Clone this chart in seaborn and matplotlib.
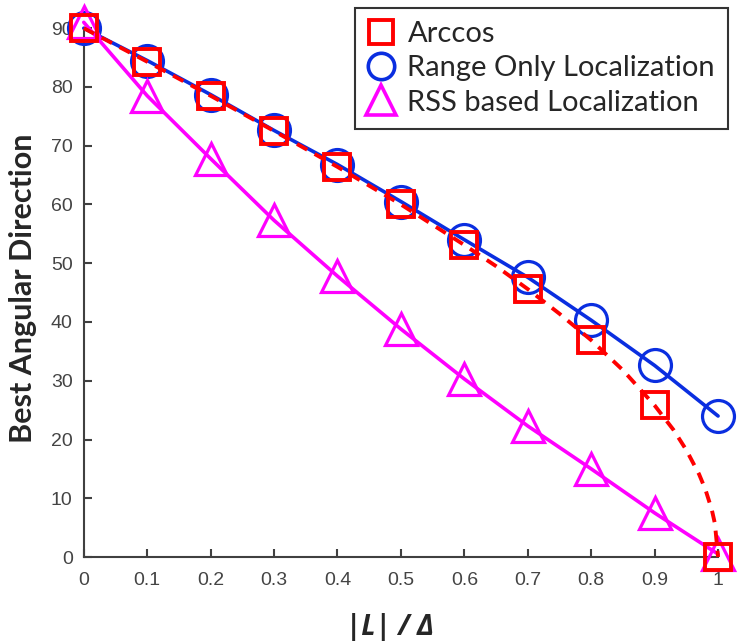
import matplotlib
matplotlib.use("Agg")
import matplotlib.pyplot as plt
from matplotlib.lines import Line2D
import seaborn as sns
import pandas as pd

x_vals = [0, 0.1, 0.2, 0.3, 0.4, 0.5, 0.6, 0.7, 0.8, 0.9, 1.0]
arccos_vals = [90, 84.3, 78.5, 72.5, 66.4, 60.0, 53.1, 45.6, 36.9, 25.8, 0.0]
range_vals = [90, 84.5, 78.7, 72.6, 66.8, 60.5, 54.0, 47.6, 40.3, 32.6, 24.0]
rss_vals = [91, 78.5, 67.8, 57.3, 47.8, 38.8, 30.3, 22.3, 15.0, 7.5, 0.5]

curve_x = [0, 0.1, 0.2, 0.3, 0.4, 0.5, 0.6, 0.65, 0.7, 0.75, 0.8, 0.85, 0.9, 0.93, 0.95, 0.97, 0.98, 0.99, 0.995, 1.0]
curve_y = [90, 84.3, 78.5, 72.5, 66.4, 60.0, 53.1, 49.5, 45.6, 41.4, 36.9, 31.8, 25.8, 21.6, 18.2, 14.1, 11.5, 8.1, 5.7, 0.0]

sns.set_style("ticks")
plt.rcParams['font.family'] = ['Liberation Sans', 'DejaVu Sans']

fig = plt.figure(figsize=(7.48, 6.41), dpi=100)
ax = fig.add_axes([0.112, 0.131, 0.848, 0.825])

red = "#ff0000"
blue = "#0a2ee0"
mag = "#ff00ff"

df_r = pd.DataFrame({"x": x_vals, "y": range_vals})
df_s = pd.DataFrame({"x": x_vals, "y": rss_vals})
df_a = pd.DataFrame({"x": x_vals, "y": arccos_vals})
df_c = pd.DataFrame({"x": curve_x, "y": curve_y})

sns.lineplot(data=df_r, x="x", y="y", ax=ax, color=blue, lw=2.6, marker="o",
             markersize=23, markerfacecolor="none", markeredgecolor=blue,
             markeredgewidth=2.3, clip_on=False, zorder=3)
sns.lineplot(data=df_s, x="x", y="y", ax=ax, color=mag, lw=2.6, marker="^",
             markersize=23, markerfacecolor="none", markeredgecolor=mag,
             markeredgewidth=2.3, clip_on=False, zorder=3)
sns.lineplot(data=df_c, x="x", y="y", ax=ax, color=red, lw=2.8,
             linestyle=(0, (3, 2.2)), clip_on=False, zorder=4)
sns.lineplot(data=df_a, x="x", y="y", ax=ax, color=red, lw=0, marker="s",
             markersize=19, markerfacecolor="none", markeredgecolor=red,
             markeredgewidth=2.8, clip_on=False, zorder=5)

ax.set_xlim(0, 1)
ax.set_ylim(0, 90)
ax.set_xticks(x_vals)
ax.set_xticklabels(["0", "0.1", "0.2", "0.3", "0.4", "0.5", "0.6", "0.7", "0.8", "0.9", "1"])
ax.set_yticks([0, 10, 20, 30, 40, 50, 60, 70, 80, 90])
ax.tick_params(direction="in", length=6, width=1.5, colors="#404040",
               labelsize=14, labelcolor="#444444")
ax.tick_params(axis="x", pad=11)
ax.tick_params(axis="y", pad=8)
for side in ["top", "right"]:
    ax.spines[side].set_visible(False)
for side in ["left", "bottom"]:
    ax.spines[side].set_color("#404040")
    ax.spines[side].set_linewidth(1.5)

ax.set_xlabel("|L| / Δ", fontsize=20, fontweight="bold", fontstyle="italic",
              family=["Open Sans", "DejaVu Sans"], labelpad=12)
ax.xaxis.set_label_coords(0.483, -0.105)
ax.set_ylabel("Best Angular Direction", fontsize=22, fontweight="bold",
              family=["Lato", "DejaVu Sans"])
ax.yaxis.set_label_coords(-0.074, 0.508)

handles = [
    Line2D([], [], lw=0, marker="s", markersize=17, markerfacecolor="none",
           markeredgecolor=red, markeredgewidth=2.8),
    Line2D([], [], lw=0, marker="o", markersize=19, markerfacecolor="none",
           markeredgecolor=blue, markeredgewidth=2.6),
    Line2D([], [], lw=0, marker="^", markersize=21, markerfacecolor="none",
           markeredgecolor=mag, markeredgewidth=2.6),
]
leg = ax.legend(handles, ["Arccos", "Range Only Localization", "RSS based Localization"],
                loc="upper right", bbox_to_anchor=(1.016, 1.038), frameon=True,
                fancybox=False, edgecolor="black", handlelength=0.9,
                handletextpad=0.45, borderpad=0.45, labelspacing=0.28,
                borderaxespad=0, prop={"family": "Lato", "size": 21})
leg.get_frame().set_linewidth(1.5)

fig.savefig("out.png", dpi=100)
